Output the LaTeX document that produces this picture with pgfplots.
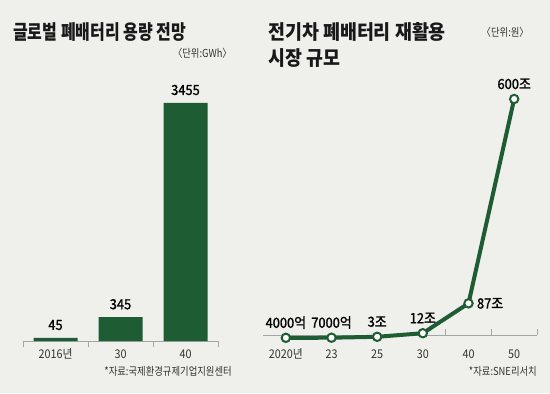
\documentclass[border=0pt]{standalone}
\usepackage{pgfplots}
\pgfplotsset{compat=1.18}
\usepackage{fontspec}
\setmainfont{Noto Sans CJK KR}
\newfontfamily\titlef{Noto Sans CJK KR}[FakeStretch=0.8]
\newfontfamily\titleg{Noto Sans CJK KR}[FakeStretch=0.92]
\newfontfamily\valf{Noto Sans CJK KR}[FakeStretch=0.92, FakeBold=1.2]
\newfontfamily\tickf{Noto Sans CJK KR}[FakeStretch=0.9]
\newfontfamily\notef{Noto Sans CJK KR}[FakeStretch=0.85]
\definecolor{bg}{HTML}{EFF0EB}
\definecolor{gr}{HTML}{1E5C33}
\definecolor{axc}{HTML}{A5A5A5}
\begin{document}
\begin{tikzpicture}[x=1bp,y=1bp]
\fill[bg] (0,0) rectangle (550,393);
\useasboundingbox (0,0) rectangle (550,393);
% titles
\node[anchor=west, inner sep=0, text=black!90] at (13,361) {\titlef\bfseries\fontsize{20bp}{24bp}\selectfont 글로벌 폐배터리 용량 전망};
\node[anchor=west, inner sep=0, text=black!90] at (268,361) {\titleg\bfseries\fontsize{20bp}{24bp}\selectfont 전기차 폐배터리 재활용};
\node[anchor=west, inner sep=0, text=black!90] at (268,335) {\titleg\bfseries\fontsize{20bp}{24bp}\selectfont 시장 규모};
\node[anchor=east, inner sep=0, text=black!80] at (232,340) {\notef\fontsize{11bp}{13bp}\selectfont 〈단위:GWh〉};
\node[anchor=east, inner sep=0, text=black!80] at (529,361) {\notef\fontsize{11bp}{13bp}\selectfont 〈단위:원〉};
\node[anchor=east, inner sep=0, text=black!80] at (232,22) {\notef\fontsize{11bp}{13bp}\selectfont *자료:국제환경규제기업지원센터};
\node[anchor=east, inner sep=0, text=black!80] at (537,22) {\notef\fontsize{11bp}{13bp}\selectfont *자료:SNE리서치};
% left chart
\begin{axis}[at={(23bp,52bp)}, anchor=south west, scale only axis,
  width=195bp, height=238bp, xmin=-0.5, xmax=2.5, ymin=0, ymax=3455,
  hide y axis, axis x line*=bottom,
  x axis line style={axc, line width=0.8bp, -},
  xtick={0,1,2}, xticklabels={2016년,30,40},
  major tick length=0pt, minor xtick={-0.5,0.5,1.5,2.5},
  minor tick length=6bp, tick align=inside,
  minor tick style={axc, line width=0.8bp},
  xticklabel style={anchor=base, yshift=-17.5bp, font=\tickf\fontsize{12bp}{14bp}\selectfont, text=black!80},
  clip=false, ybar, bar width=44bp,
  nodes near coords, point meta=explicit symbolic,
  nodes near coords style={font=\valf\fontsize{14bp}{16bp}\selectfont, anchor=base, yshift=8bp, text=black}]
\addplot[fill=gr, draw=none] table[meta=lab] {
x y lab
0 45 45
1 345 345
2 3455 3455
};
\end{axis}
% right chart
\begin{axis}[at={(263bp,58bp)}, anchor=south west, scale only axis,
  width=274bp, height=236bp, xmin=-0.5, xmax=5.5, ymin=7.5, ymax=600,
  hide y axis, axis x line*=bottom,
  x axis line style={axc, line width=0.8bp, -},
  xtick={0,1,2,3,4,5}, xticklabels={2020년,23,25,30,40,50},
  major tick length=0pt, minor xtick={3.5,4.5,5.5},
  minor tick length=6bp, tick align=inside,
  minor tick style={axc, line width=0.8bp},
  xticklabel style={anchor=base, yshift=-23.5bp, font=\tickf\fontsize{12bp}{14bp}\selectfont, text=black!80},
  clip=false]
\addplot[gr, line width=4bp, mark=*, mark size=4.2bp, mark options={fill=white, draw=gr, line width=2bp}] table {
x y
0 0.4
1 0.7
2 3
3 12
4 87
5 600
};
\addplot[draw=none, nodes near coords, point meta=explicit symbolic,
  nodes near coords style={font=\valf\fontsize{14bp}{16bp}\selectfont, anchor=base, yshift=10bp, text=black}] table[meta=lab] {
x y lab
0 0.4 4000억
1 0.7 7000억
2 3 3조
3 12 12조
5 600 600조
};
\addplot[draw=none, nodes near coords, point meta=explicit symbolic,
  nodes near coords style={font=\valf\fontsize{14bp}{16bp}\selectfont, anchor=west, xshift=5bp, text=black}] table[meta=lab] {
x y lab
4 87 87조
};
\end{axis}
\end{tikzpicture}
\end{document}
